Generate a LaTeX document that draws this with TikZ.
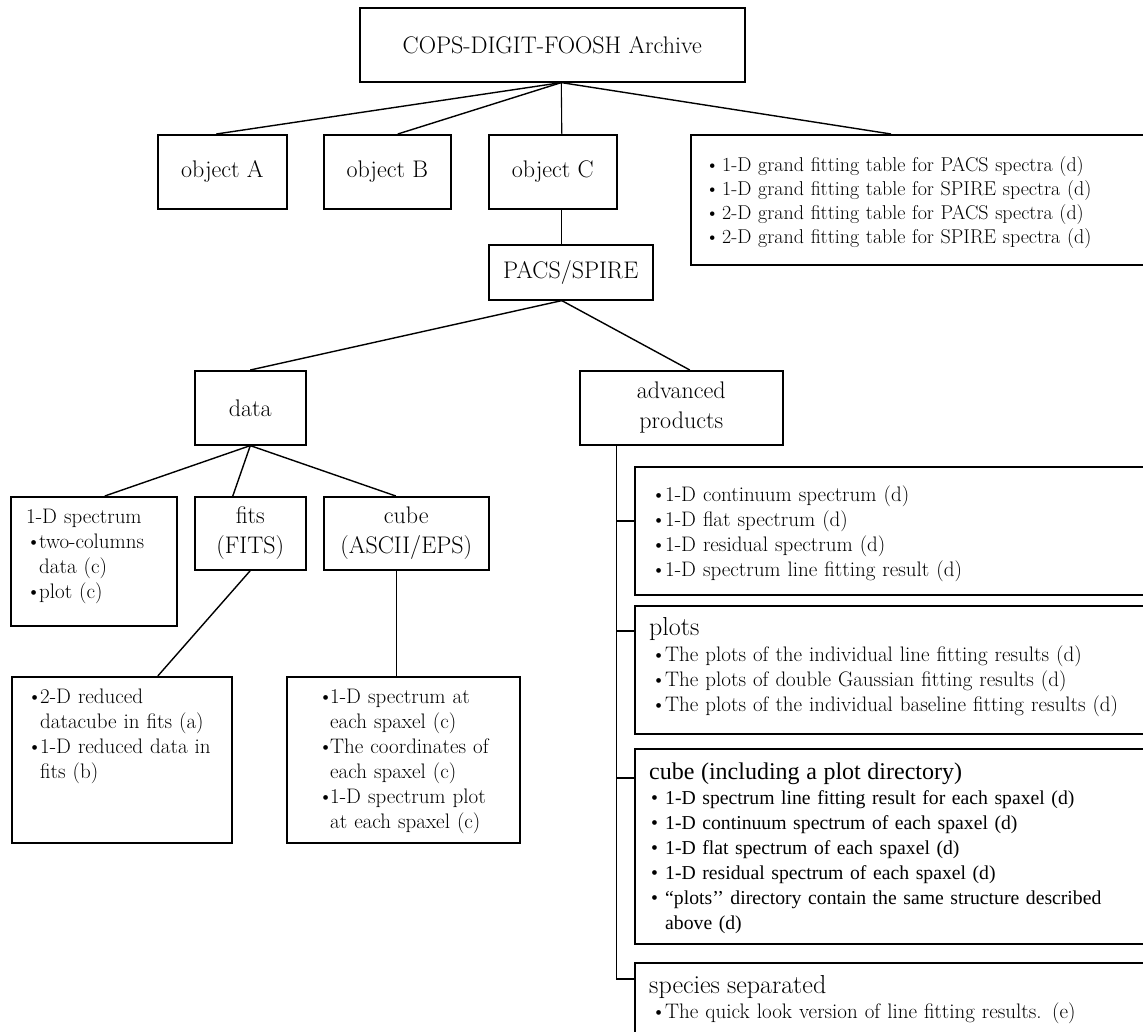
\documentclass[tikz,border=0pt]{standalone}
\usepackage{fontspec}
\usepackage{tikz}
\usetikzlibrary{positioning,calc}
\newfontfamily\tms{Liberation Serif}
\newcommand{\itembul}[1][14pt]{\makebox[#1][l]{\textbullet}}
\newcommand{\contind}[1][14pt]{\hspace*{#1}}

\begin{document}
\begin{tikzpicture}[x=1pt,y=-1pt,
box/.style={draw, line width=1.6pt, inner sep=0pt, anchor=north west, align=center, font=\fontsize{24}{30}\selectfont},
txt/.style={inner sep=0pt, anchor=base west, align=left, text width=#1, font=\fontsize{21}{25}\selectfont},
txt/.default=300pt,
link/.style={line width=1.4pt}
]
\useasboundingbox (0,0) rectangle (1143,1031);
\clip (0,0) rectangle (1143,1031);

% top levels
\node[box, minimum width=385pt, minimum height=74pt] (archive) at (359,7) {COPS-DIGIT-FOOSH Archive};
\node[box, minimum width=129pt, minimum height=74pt] (objA) at (157,134) {object A};
\node[box, minimum width=127pt, minimum height=74pt] (objB) at (323,134) {object B};
\node[box, minimum width=128pt, minimum height=74pt] (objC) at (488,134) {object C};
\node[box, minimum width=470pt, minimum height=130pt] (grand) at (690,134) {};
\node[txt=440pt, font=\fontsize{20}{24.3}\selectfont] (grandtxt) at (705,171)
  {\itembul[17pt]1-D grand fitting table for PACS spectra (d)\\
   \itembul[17pt]1-D grand fitting table for SPIRE spectra (d)\\
   \itembul[17pt]2-D grand fitting table for PACS spectra (d)\\
   \itembul[17pt]2-D grand fitting table for SPIRE spectra (d)};
\node[box, minimum width=164pt, minimum height=55pt] (pacs) at (488,244) {PACS/SPIRE};

% data side
\node[box, minimum width=111pt, minimum height=74pt] (data) at (194,370) {data};
\node[box, minimum width=166pt, minimum height=129pt] (spec1d) at (10,496) {};
\node[txt=160pt] (spec1dtxt) at (26,523)
  {1-D spectrum\\
   \itembul[13pt]two-columns\\
   \contind[13pt]data (c)\\
   \itembul[13pt]plot (c)};
\node[box, minimum width=111pt, minimum height=73pt] (fits) at (194,496) {fits\\(FITS)};
\node[box, minimum width=165pt, minimum height=73pt] (cube) at (323,496) {cube\\(ASCII/EPS)};
\node[box, minimum width=220pt, minimum height=166pt] (fitsout) at (11,676) {};
\node[txt=210pt] (fitsouttxt) at (27,703)
  {\itembul[13pt]2-D reduced\\
   \contind[13pt]datacube in fits (a)\\
   \itembul[13pt]1-D reduced data in\\
   \contind[13pt]fits (b)};
\node[box, minimum width=233pt, minimum height=166pt] (cubeout) at (286,676) {};
\node[txt=200pt] (cubeouttxt) at (318,703)
  {\itembul[12pt]1-D spectrum at\\
   \contind[12pt]each spaxel (c)\\
   \itembul[12pt]The coordinates of\\
   \contind[12pt]each spaxel (c)\\
   \itembul[12pt]1-D spectrum plot\\
   \contind[12pt]at each spaxel (c)};

% advanced products side
\node[box, minimum width=203pt, minimum height=74pt] (adv) at (579,370) {advanced\\products};
\node[box, minimum width=520pt, minimum height=128pt] (advA) at (634,466) {};
\node[txt=480pt] (advAtxt) at (651,501)
  {\itembul 1-D continuum spectrum (d)\\
   \itembul 1-D flat spectrum (d)\\
   \itembul 1-D residual spectrum (d)\\
   \itembul 1-D spectrum line fitting result (d)};
\node[box, minimum width=520pt, minimum height=128pt] (advB) at (634,605) {};
\node[txt=480pt] (advBtxt) at (649,635)
  {{\fontsize{26}{25}\selectfont plots}\\[1pt]
   \hspace*{2pt}\itembul The plots of the individual line fitting results (d)\\
   \hspace*{2pt}\itembul The plots of double Gaussian fitting results (d)\\
   \hspace*{2pt}\itembul The plots of the individual baseline fitting results (d)};
\node[box, minimum width=520pt, minimum height=195pt] (advC) at (634,748) {};
\node[txt=480pt, font=\tms\fontsize{19.7}{25}\selectfont] (advCtxt) at (649,779)
  {{\fontsize{24}{25}\selectfont cube (including a plot directory)}\\[0pt]
   \hspace*{2pt}\itembul 1-D spectrum line fitting result for each spaxel (d)\\
   \hspace*{2pt}\itembul 1-D continuum spectrum of each spaxel (d)\\
   \hspace*{2pt}\itembul 1-D flat spectrum of each spaxel (d)\\
   \hspace*{2pt}\itembul 1-D residual spectrum of each spaxel (d)\\
   \hspace*{2pt}\itembul “plots’’ directory contain the same structure described\\
   \hspace*{2pt}\contind above (d)};
\node[box, minimum width=520pt, minimum height=100pt] (advD) at (634,962) {};
\node[txt=480pt] (advDtxt) at (649,993)
  {{\fontsize{26}{25}\selectfont species separated}\\[0pt]
   \hspace*{2pt}\itembul The quick look version of line fitting results. (e)};

% connectors
\draw[link] ([xshift=9pt]archive.south) -- ([xshift=-6pt]objA.north);
\draw[link] ([xshift=9pt]archive.south) -- ([xshift=10.5pt]objB.north);
\draw[link, line width=1.1pt] ([xshift=9pt]archive.south) -- ([xshift=9pt]objC.north);
\draw[link] ([xshift=9pt]archive.south) -- ([xshift=201pt]grand.north west);
\draw[link, line width=1.1pt] ([xshift=9pt]objC.south) -- ([xshift=-9pt]pacs.north);
\draw[link] ([xshift=-9pt]pacs.south) -- (data.north);
\draw[link] ([xshift=-9pt]pacs.south) -- ([xshift=8.5pt]adv.north);
\draw[link] (data.south) -- ([xshift=11pt]spec1d.north);
\draw[link] (data.south) -- ([xshift=-17.5pt]fits.north);
\draw[link] (data.south) -- ([xshift=-10.5pt]cube.north);
\draw[link] (fits.south) -- ([xshift=36pt]fitsout.north);
\draw[link, line width=1.1pt] ([xshift=-9.5pt]cube.south) -- ([xshift=-6.5pt]cubeout.north);
\coordinate (trunk) at ([xshift=37.5pt]adv.south west);
\draw[link, line width=1.1pt] (trunk) |- ([yshift=-17pt]advD.north west);
\foreach \b/\d in {advA/55,advB/26,advC/30}
  \draw[link, line width=1.1pt] ([yshift=-\d pt]\b.north west) -| (trunk);
\end{tikzpicture}
\end{document}
